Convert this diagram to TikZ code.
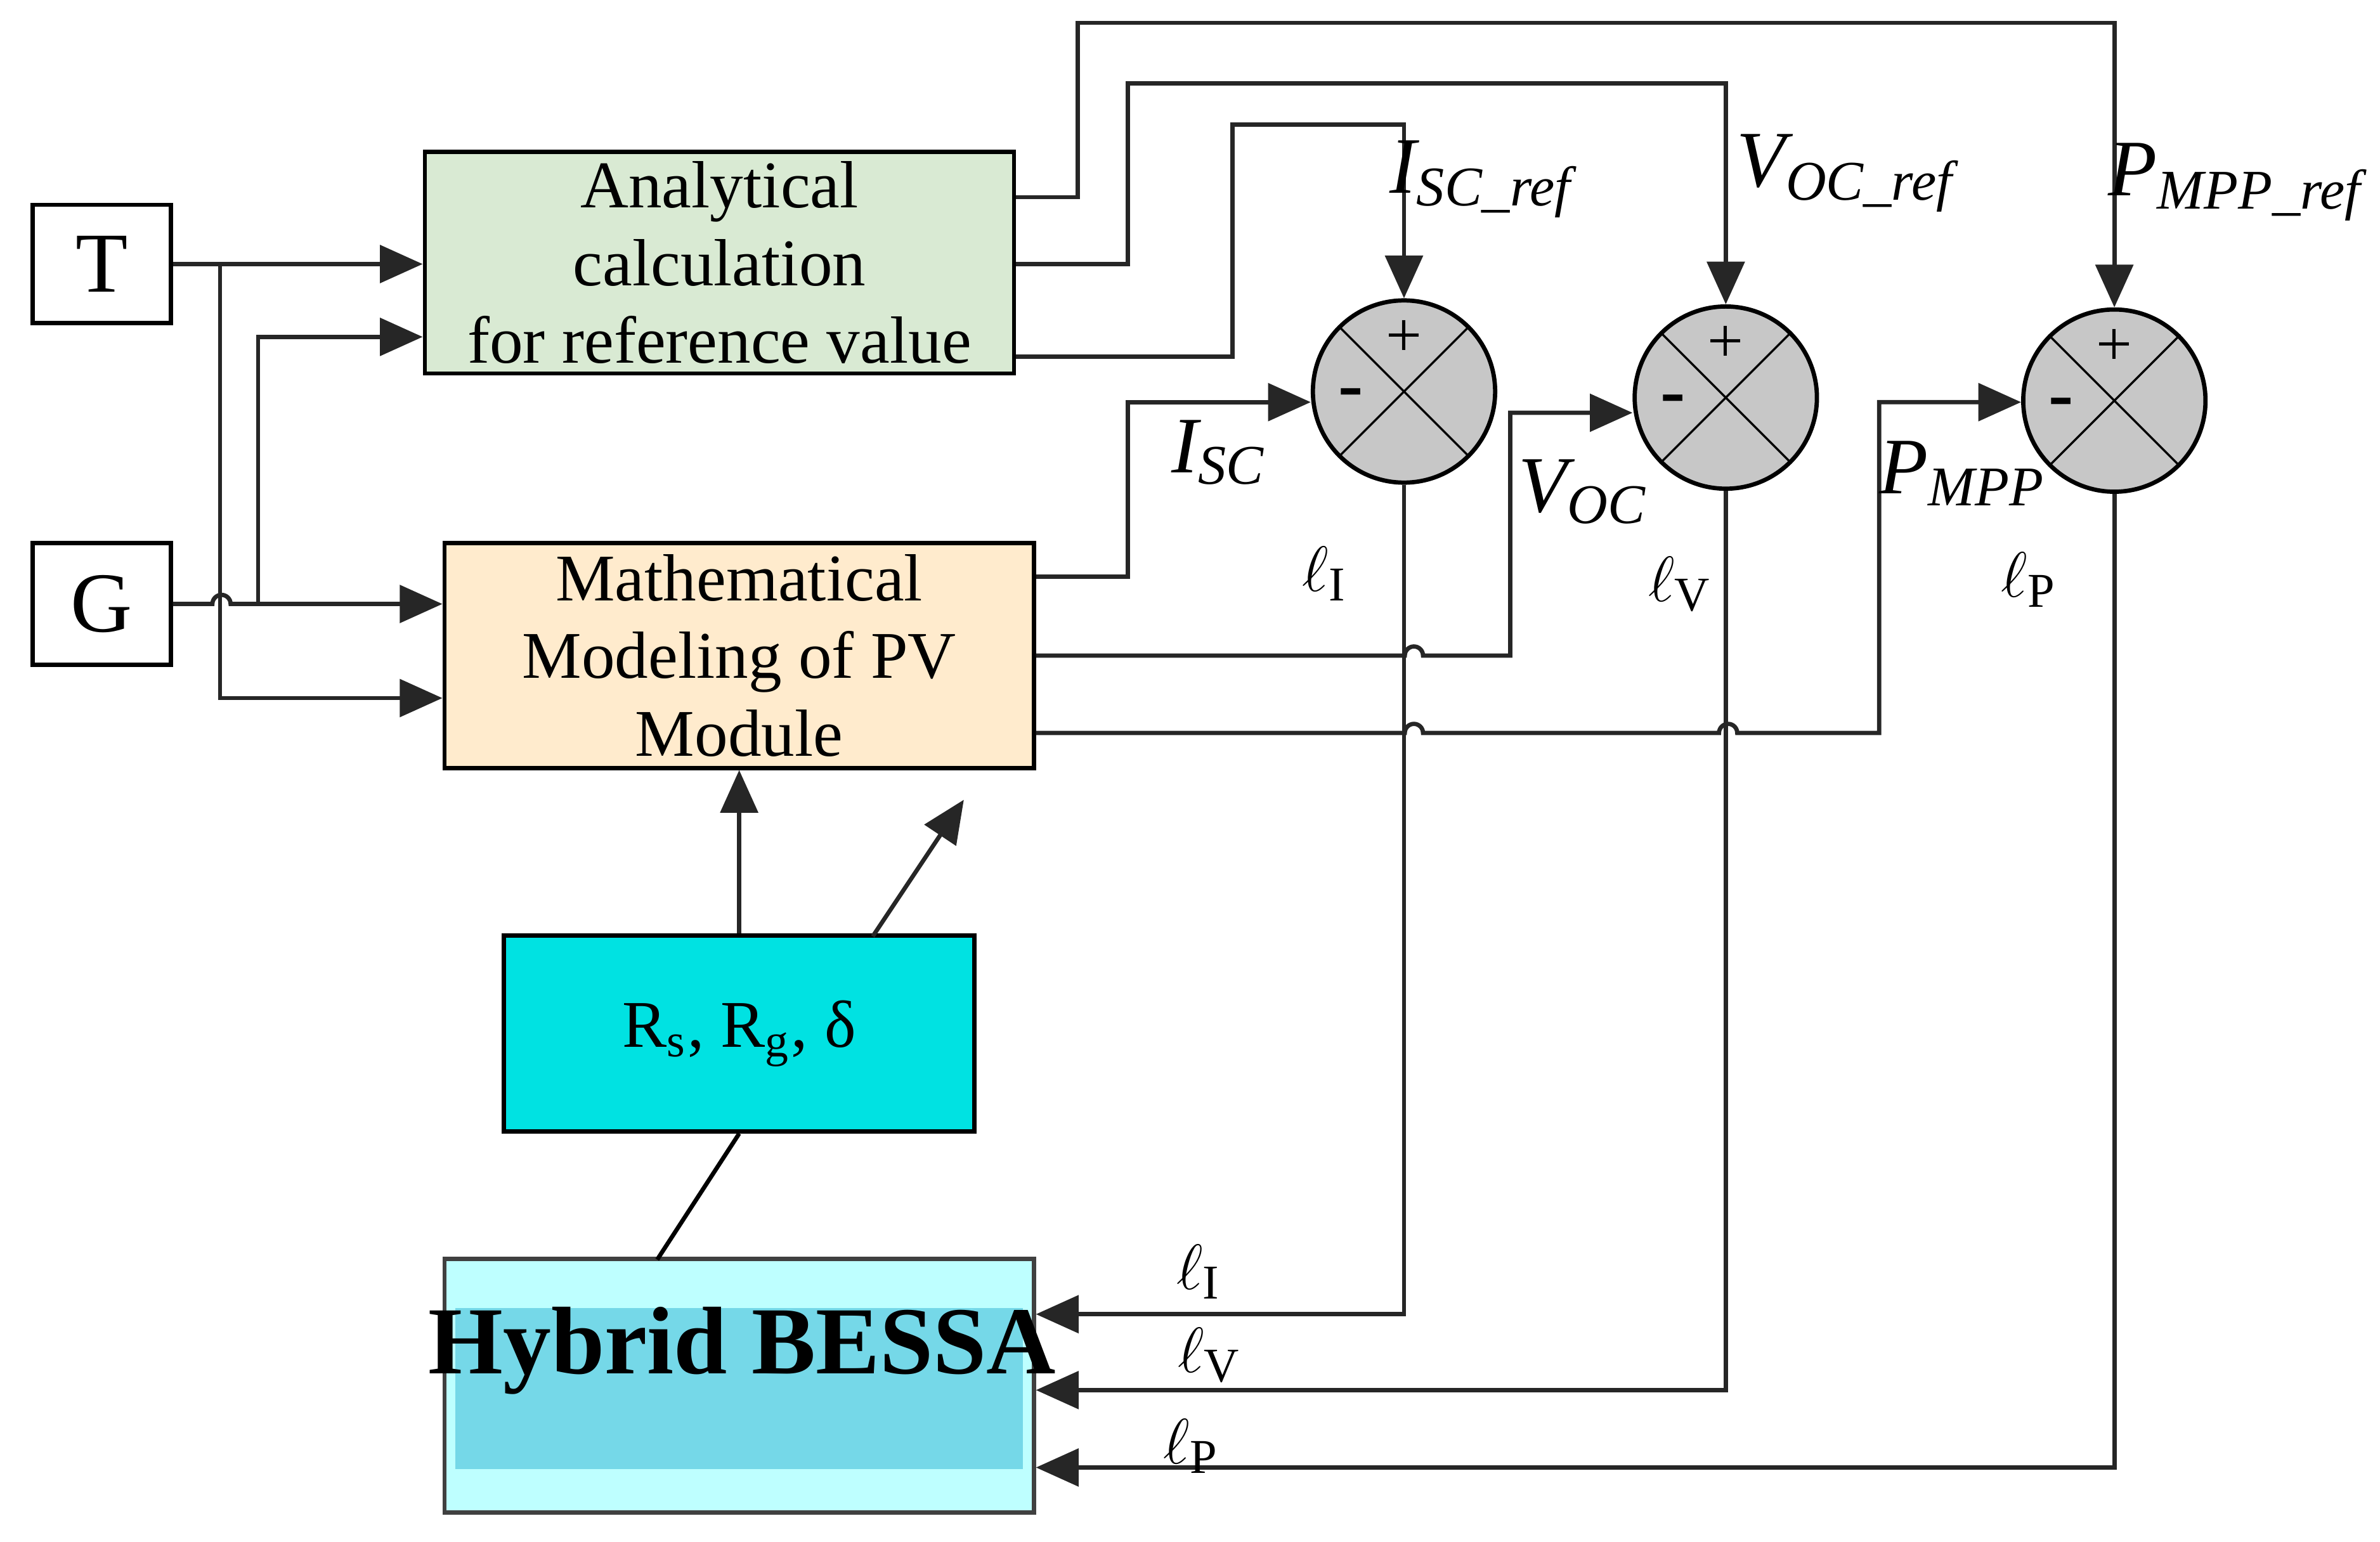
\documentclass[tikz,border=0pt]{standalone}
\usepackage{fontspec}
\setmainfont{Liberation Serif}
\usetikzlibrary{arrows.meta,calc,positioning}

\definecolor{anafill}{RGB}{217,234,211}
\definecolor{pvfill}{RGB}{255,235,205}
\definecolor{parfill}{RGB}{0,226,226}
\definecolor{bouter}{RGB}{190,255,255}
\definecolor{binner}{RGB}{117,216,232}

\tikzset{
  blk/.style={draw, thick, align=center, inner sep=0pt},
  sig/.style={thick, draw=black!85},
  arr/.style={sig, -{Triangle[length=8pt,width=7pt]}},
  sumj/.style={draw, thick, fill=black!22, circle, minimum size=1.2cm, inner sep=0pt},
  lbl/.style={font=\fontsize{15}{15}\selectfont\itshape},
}
\newcommand{\jmp}[1]{-- ++(#1,0) arc (180:0:0.06cm)}
\newcommand{\sig}[2]{#1\textsubscript{#2}}

\begin{document}
\begin{tikzpicture}[x=0.01cm,y=-0.01cm,font=\fontsize{12.5}{14.5}\selectfont]
  \useasboundingbox (0,0) rectangle (1568,1016);

  % inputs
  \node[blk, minimum width=0.91cm, minimum height=0.78cm, font=\fontsize{16}{18}\selectfont] (T) at (67,174) {T};
  \node[blk, minimum width=0.91cm, minimum height=0.8cm, font=\fontsize{16}{18}\selectfont] (G) at (67,398) {G};

  % blocks
  \node[blk, fill=anafill, minimum width=3.88cm, minimum height=1.46cm] (ana) at (474,173)
    {Analytical\\calculation\\for reference value};
  \node[blk, fill=pvfill, minimum width=3.88cm, minimum height=1.48cm] (pv) at (487,432)
    {Mathematical\\Modeling of PV\\Module};
  \node[blk, fill=parfill, minimum width=3.1cm, minimum height=1.29cm] (par) at (487,681)
    {R\textsubscript{s}, R\textsubscript{g}, δ};
  \node[blk, draw=black!75, fill=bouter, minimum width=3.88cm, minimum height=1.67cm] (bessa) at (487,913) {};
  \fill[binner] (300,862) rectangle (674,968);
  \node[font=\fontsize{18}{20}\selectfont\bfseries] at (489,890) {Hybrid BESSA};

  % summing junctions
  \foreach \n/\x/\y in {sI/925/258, sV/1137/262, sP/1393/264}{
    \node[sumj] (\n) at (\x,\y) {};
    \draw[thin] (\n.45) -- (\n.225) (\n.135) -- (\n.315);
    \node[font=\fontsize{12}{12}\selectfont] at ($(\n)+(0,-35)$) {+};
    \node[font=\fontsize{14}{14}\selectfont\bfseries] at ($(\n)+(-35,5)$) {-};
  }

  % T and G to the blocks
  \draw[arr] (T.east) -- (ana.west |- T.east);
  \draw[arr] (145,174) -- (145,460) -- (pv.west |- 0,460);
  \draw[arr] (G.east) \jmp{26} -- (pv.west |- G.east);
  \draw[arr] (170,398) -- (170,222) -- (ana.west |- 0,222);

  % references
  \draw[arr] (ana.east |- 0,130) -- (710,130) -- (710,15) -- (sP.north |- 0,15) -- (sP.north);
  \draw[arr] (ana.east |- 0,174) -- (743,174) -- (743,55) -- (sV.north |- 0,55) -- (sV.north);
  \draw[arr] (ana.east |- 0,235) -- (812,235) -- (812,82) -- (sI.north |- 0,82) -- (sI.north);

  % measured values
  \draw[arr] (pv.east |- 0,380) -- (743,380) -- (743,265) -- (sI.west |- 0,265);
  \draw[arr] (pv.east |- 0,432) \jmp{243} -- (995,432) -- (995,272) -- (sV.west |- 0,272);
  \draw[arr] (pv.east |- 0,483) \jmp{243} \jmp{195} -- (1238,483) -- (1238,265) -- (sP.west |- 0,265);

  % errors
  \draw[arr] (sI.south) -- (sI.south |- 0,866) -- (bessa.east |- 0,866);
  \draw[arr] (sV.south) -- (sV.south |- 0,916) -- (bessa.east |- 0,916);
  \draw[arr] (sP.south) -- (sP.south |- 0,967) -- (bessa.east |- 0,967);

  % parameters
  \draw[arr] (par.north) -- (pv.south);
  \draw[arr] (575,617) -- (635,527);
  \draw[thick] (433,830) -- (par.south);

  % labels
  \node[lbl] at (976,118) {\sig{I}{SC\_ref}};
  \node[lbl] at (1216,114) {\sig{V}{OC\_ref}};
  \node[lbl] at (1473,120) {\sig{P}{MPP\_ref}};
  \node[lbl] at (803,298) {\sig{I}{SC}};
  \node[lbl] at (1043,324) {\sig{V}{OC}};
  \node[lbl] at (1293,312) {\sig{P}{MPP}};
  \foreach \x/\y/\s in {873/378/I, 1107/385/V, 1337/382/P, 790/838/I, 797/893/V, 785/953/P}
    \node[font=\fontsize{13}{13}\selectfont] at (\x,\y) {$\ell_{\mathrm{\s}}$};
\end{tikzpicture}
\end{document}
